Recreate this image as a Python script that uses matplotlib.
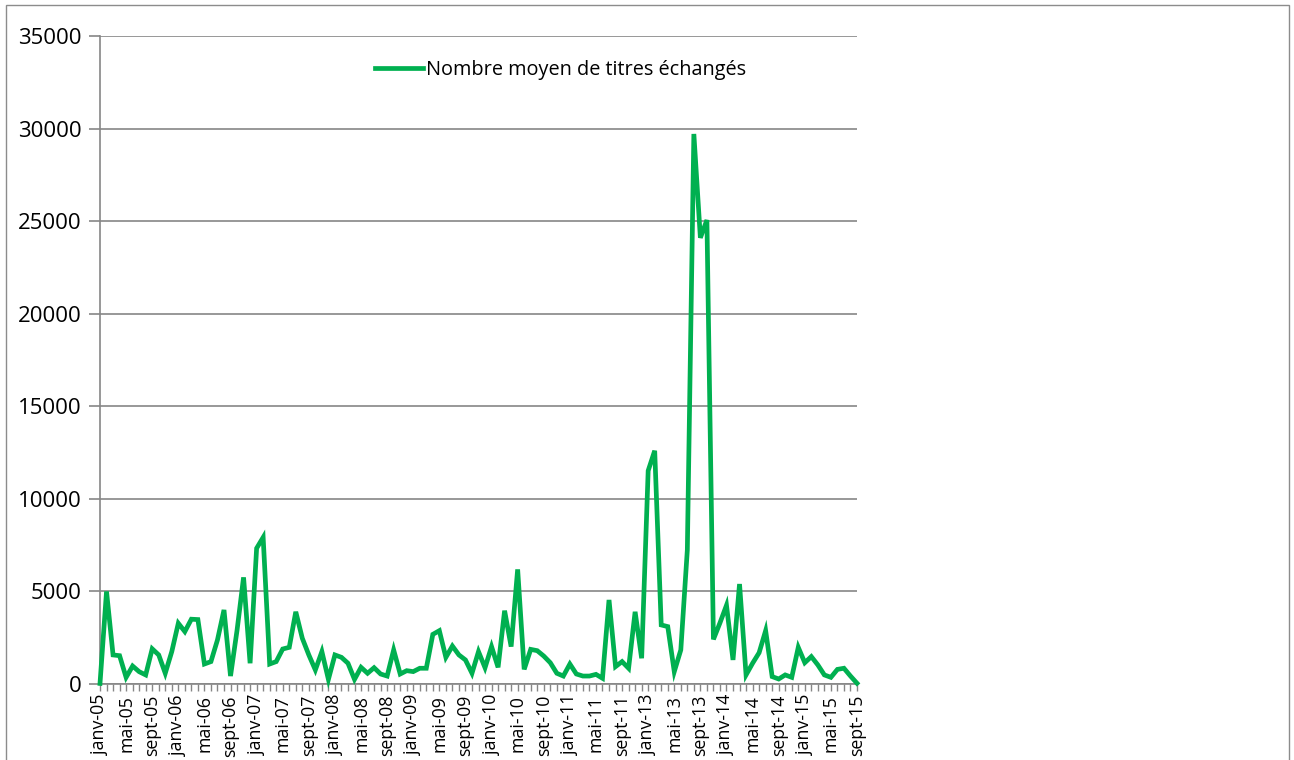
import numpy as np
import matplotlib.pyplot as plt
from matplotlib.patches import Rectangle

# ----------------------------------------------------
# Data: monthly average number of traded shares
# (2012 is absent from the source series)
# ----------------------------------------------------
month_names = ["janv", "févr", "mars", "avr", "mai", "juin",
               "juil", "août", "sept", "oct", "nov", "déc"]
years = [5, 6, 7, 8, 9, 10, 11, 13, 14, 15]

values = [
    30, 5000, 1570, 1530, 360, 970, 665, 490, 1900, 1570, 580, 1750,        # 2005
    3280, 2830, 3500, 3480, 1080, 1210, 2380, 4000, 430, 2900, 5760, 1120,  # 2006
    7330, 7920, 1080, 1210, 1890, 1980, 3900, 2470, 1570, 760, 1750, 250,   # 2007
    1570, 1440, 1120, 250, 900, 580, 880, 540, 430, 1840, 540, 720,         # 2008
    670, 850, 850, 2680, 2880, 1440, 2050, 1570, 1300, 580, 1750, 880,      # 2009
    2020, 900, 3960, 2020, 6190, 790, 1870, 1800, 1510, 1150, 580, 430,     # 2010
    1080, 540, 430, 430, 520, 310, 4540, 940, 1210, 850, 3900, 1390,        # 2011
    11520, 12600, 3190, 3100, 670, 1840, 7240, 29710, 24100, 25060, 2410, 3300,  # 2013
    4250, 1300, 5400, 490, 1120, 1690, 2880, 400, 270, 490, 360, 1980,      # 2014
    1150, 1480, 1030, 490, 360, 790, 850, 430, 40,                          # 2015 (to sept)
]

series_label = "Nombre moyen de titres échangés"

# category labels, e.g. "janv-05"
categories = []
for y in years:
    for m in month_names:
        categories.append(f"{m}-{y:02d}")
categories = categories[:len(values)]

# ----------------------------------------------------
# Plot
# ----------------------------------------------------
plt.rcParams["font.family"] = ["Open Sans", "DejaVu Sans"]

fig = plt.figure(figsize=(12.94, 7.6), dpi=100)
ax = fig.add_axes([100 / 1294, 76 / 760, 757 / 1294, 648 / 760])

x = np.arange(len(values))
ax.plot(x, values, color="#00B050", linewidth=3.4, solid_joinstyle="miter",
        label=series_label, clip_on=False, zorder=3)

ax.set_xlim(0, len(values) - 1)
ax.set_ylim(0, 35000)
ax.set_yticks(np.arange(0, 35001, 5000))
ax.tick_params(axis="y", labelsize=16, length=8, width=1.2, color="#868686",
               direction="out", pad=5)

ax.set_xticks(x[::4])
ax.set_xticklabels(categories[::4], rotation=90, fontsize=12.8)
ax.set_xticks(x, minor=True)
ax.tick_params(axis="x", which="both", length=5, width=1, color="#868686",
               direction="out", pad=3)

ax.grid(axis="y", color="#868686", linewidth=1.2)
ax.set_axisbelow(True)
for side in ["top", "right"]:
    ax.spines[side].set_visible(False)
for side in ["left", "bottom"]:
    ax.spines[side].set_color("#868686")
    ax.spines[side].set_linewidth(1.2)

ax.legend(loc="center", bbox_to_anchor=(0.608, 0.948), frameon=False,
          fontsize=14.3, handlelength=2.4, handletextpad=0.15)

# outer chart frame
fig.patches.append(Rectangle((6 / 1294, -0.05), 1283 / 1294, (755 / 760) + 0.05,
                             transform=fig.transFigure, fill=False,
                             edgecolor="#8c8c8c", linewidth=1.0))

fig.savefig("out.png", dpi=100)
